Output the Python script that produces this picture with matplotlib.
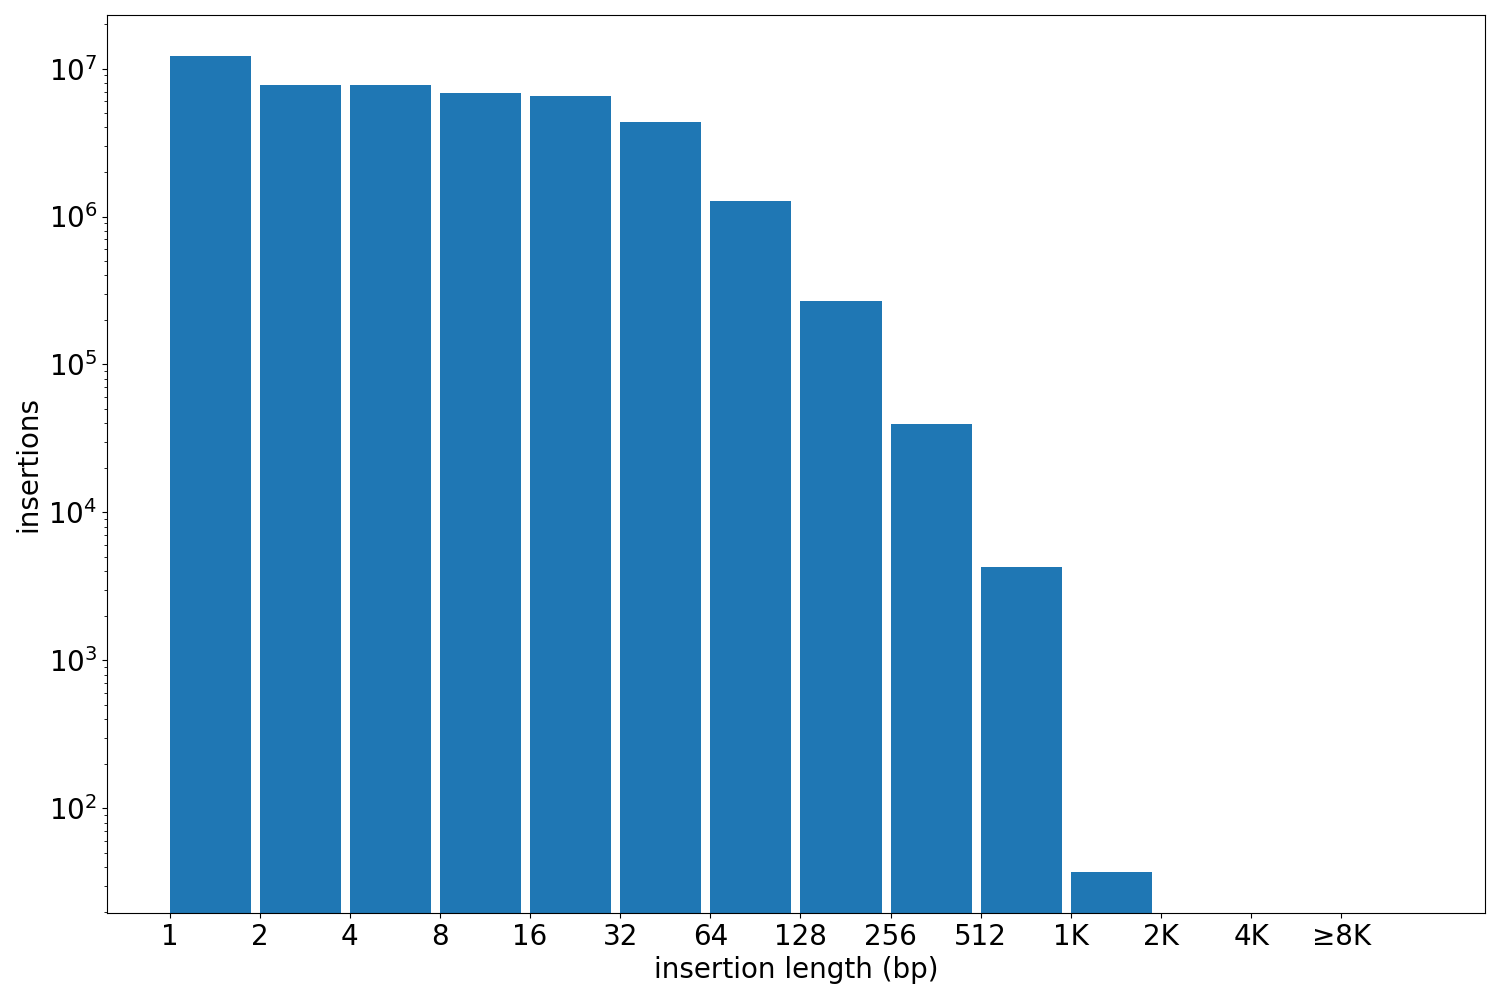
import matplotlib
matplotlib.use("Agg")
import matplotlib.pyplot as plt
import numpy as np

labels = ["1", "2", "4", "8", "16", "32", "64", "128", "256", "512", "1K", "2K", "4K", "≥8K"]
counts = [1.22e7, 7.8e6, 7.8e6, 6.8e6, 6.5e6, 4.35e6, 1.28e6, 2.7e5, 3.94e4, 4.3e3, 37, 0, 0, 0]

plt.rcParams['font.size'] = 20
fig, ax = plt.subplots(figsize=(15, 10), dpi=100)
x = np.arange(len(labels))
ax.bar(x, counts, width=0.9, align='edge', color='#1f77b4')
ax.set_yscale('log')
ax.set_xticks(x)
ax.set_xticklabels(labels)
ax.set_xlabel("insertion length (bp)")
ax.set_ylabel("insertions")
fig.subplots_adjust(left=0.0713, right=0.99, top=0.985, bottom=0.087)
fig.savefig("out.png")
